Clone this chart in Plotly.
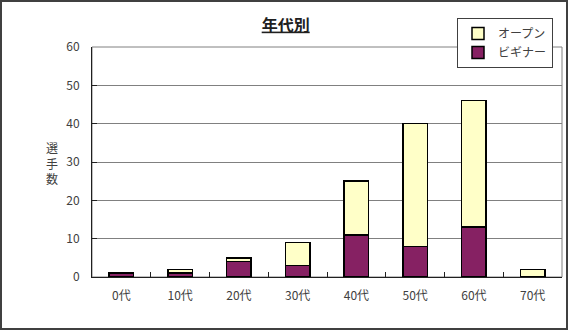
import plotly.graph_objects as go

categories = ["0代", "10代", "20代", "30代", "40代", "50代", "60代", "70代"]
beginner = [1, 1, 4, 3, 11, 8, 13, 0]
open_ = [0, 1, 1, 6, 14, 32, 33, 2]
y_ticks = [0, 10, 20, 30, 40, 50, 60]

FONT = "Noto Sans CJK JP, Noto Sans, sans-serif"
W, H = 568, 330
L, R, T, B = 92, 6, 47, 53
PW, PH = W - L - R, H - T - B

fig = go.Figure()
fig.add_trace(go.Bar(x=categories, y=beginner, name="ビギナー",
                     marker=dict(color="#862163", line=dict(color="black", width=1.5))))
fig.add_trace(go.Bar(x=categories, y=open_, name="オープン",
                     marker=dict(color="#FFFFC8", line=dict(color="black", width=1.5))))

def px(x):
    return (x - L) / PW

def py(y):
    return (H - B - y) / PH

fig.update_layout(
    width=W, height=H,
    margin=dict(l=L, r=R, t=T, b=B, pad=0),
    barmode="stack", bargap=0.58,
    paper_bgcolor="white", plot_bgcolor="white",
    font=dict(family=FONT, size=12, color="#404040"),
    title=dict(text="<u>年代別</u>", x=0.503, xref="container", xanchor="center",
               y=1 - 25 / H, yref="container", yanchor="middle",
               font=dict(size=16, color="#202020", family=FONT, weight="bold")),
    showlegend=True,
    legend=dict(traceorder="reversed", x=px(553), xanchor="right", y=py(18), yanchor="top",
                bgcolor="white", bordercolor="#404040", borderwidth=1,
                font=dict(size=12, color="#404040", family=FONT),
                itemwidth=30, tracegroupgap=0),
    xaxis=dict(type="category", showline=True, linecolor="#202020", linewidth=1,
               ticks="inside", tickson="boundaries", ticklen=5, tickcolor="#202020",
               showgrid=False, ticklabelstandoff=8, fixedrange=True),
    yaxis=dict(range=[0, 60], tickvals=y_ticks, showline=True, linecolor="#202020", linewidth=1,
               ticks="inside", ticklen=5, tickcolor="#202020",
               showgrid=True, gridcolor="#808080", gridwidth=1, zeroline=False,
               ticklabelstandoff=9, fixedrange=True),
    shapes=[
        dict(type="rect", xref="paper", yref="paper", x0=0, x1=1, y0=0, y1=1,
             line=dict(color="#808080", width=1), layer="below"),
        dict(type="rect", xref="paper", yref="paper",
             x0=px(1), x1=px(W - 1), y0=py(H - 1), y1=py(1),
             line=dict(color="#404040", width=2)),
    ],
    annotations=[
        dict(text="選<br>手<br>数", xref="paper", yref="paper", x=px(52), y=py(163),
             xanchor="center", yanchor="middle", showarrow=False,
             font=dict(size=12, color="#404040", family=FONT)),
    ],
)

fig.write_html("out.html")
